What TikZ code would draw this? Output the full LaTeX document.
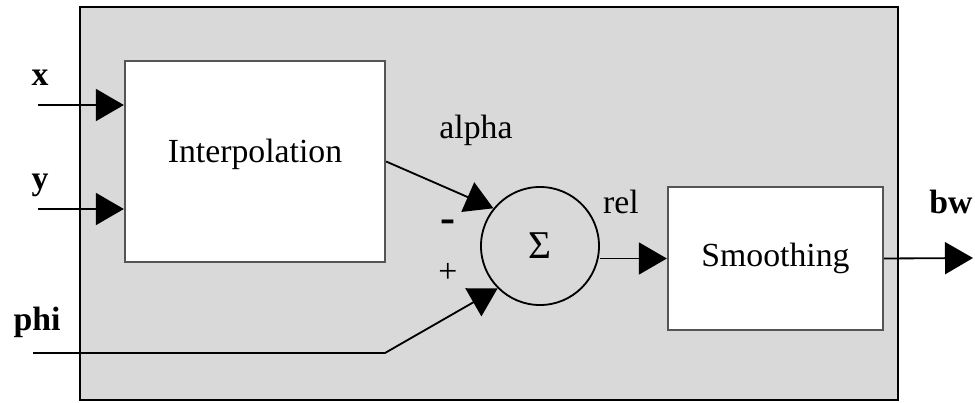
\documentclass[tikz,border=0pt]{standalone}
\usepackage{fontspec}
\setmainfont{Liberation Serif}
\usetikzlibrary{arrows.meta}
\definecolor{panelgray}{RGB}{217,217,217}
\definecolor{edgegray}{RGB}{85,85,85}
\begin{document}
\begin{tikzpicture}[x=0.025cm, y=-0.025cm,
        font=\fontsize{24}{28}\selectfont,
        block/.style={draw=edgegray, line width=1.6pt, fill=white, inner sep=0pt},
        sig/.style={line width=1.3pt, -{Triangle[length=0.7cm, width=0.8cm]}},
        siglabel/.style={anchor=base, font=\fontsize{24}{28}\selectfont\bfseries}
    ]
    \useasboundingbox (0,0) rectangle (975,402);
    \draw[fill=panelgray, line width=1.8pt] (80,7) rectangle (898,400);

    \node (interp) at (255,161.5)[block, minimum width=6.5cm, minimum height=5.025cm,
        text height=16pt, text depth=14pt]{Interpolation};
    \node (smooth) at (775.5,258.5)[block, minimum width=5.375cm, minimum height=3.575cm]{Smoothing};
    \node (sum) at (540,246)[circle, draw, line width=1.3pt, minimum size=2.95cm, inner sep=0pt,
        font=\fontsize{28}{32}\selectfont]{Σ};

    \foreach \lab/\ypos in {x/105, y/209}
        {
            \node (lab\lab) at (40,\ypos-20)[siglabel]{\lab};
            \coordinate (in\lab) at (38,\ypos);
            \draw[sig] (in\lab) -- (interp.west |- in\lab);
        }

    \node (labphi) at (37,330)[siglabel]{phi};
    \coordinate (inphi) at (33,353);
    \coordinate (bend) at (385,353);
    \draw[sig] (inphi) -- (bend) -- (sum.225);

    \draw[sig] (interp.east) -- (sum.141);
    \node (labalpha) at (476,138)[anchor=base]{alpha};
    \node (minus) at (448,226)[font=\fontsize{32}{36}\selectfont\bfseries]{-};
    \node (plus) at (448,273){+};

    \draw[sig] (sum.east |- smooth.west) -- (smooth.west);
    \node (labrel) at (621,213)[anchor=base]{rel};

    \coordinate (outbw) at (973,258);
    \draw[sig] (smooth.east) -- (outbw);
    \node (labbw) at (929,213)[siglabel, anchor=base west, inner xsep=0pt]{bw};
\end{tikzpicture}
\end{document}
